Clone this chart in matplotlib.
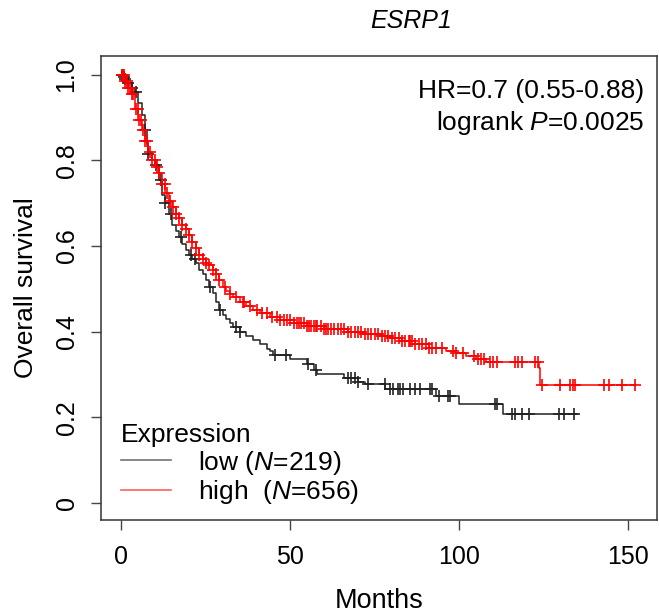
import numpy as np
import matplotlib
matplotlib.use("Agg")
import matplotlib.pyplot as plt
from matplotlib.lines import Line2D

plt.rcParams['font.family'] = ['Liberation Sans', 'DejaVu Sans']
plt.rcParams['mathtext.fontset'] = 'custom'
plt.rcParams['mathtext.rm'] = 'Liberation Sans'
plt.rcParams['mathtext.it'] = 'Liberation Sans:italic'

# Kaplan-Meier step curves (months, survival after step)
low_t = [0, 0.5, 1, 2, 3, 4, 5, 6, 7, 7.5, 8, 9, 10, 11, 12, 13, 14, 15, 16, 17,
         18, 19, 20, 21, 22, 23, 24, 25, 26, 27, 28, 29, 30, 31, 32, 33, 35, 37,
         39, 41, 43, 44, 45, 50, 55, 57, 58, 66, 70, 72, 78, 93, 100, 113, 134.8]
low_s = [1.0, 0.995, 0.99, 0.98, 0.97, 0.96, 0.935, 0.905, 0.87, 0.84, 0.815, 0.80,
         0.79, 0.755, 0.72, 0.70, 0.675, 0.65, 0.635, 0.62, 0.605, 0.59, 0.58,
         0.57, 0.56, 0.545, 0.535, 0.52, 0.505, 0.49, 0.47, 0.45, 0.44, 0.43, 0.42,
         0.41, 0.40, 0.39, 0.38, 0.37, 0.36, 0.355, 0.345, 0.335, 0.325, 0.31,
         0.302, 0.292, 0.283, 0.277, 0.265, 0.25, 0.23, 0.207, 0.207]
low_cens = [0.3, 0.8, 1.2, 2.0, 3.0, 4.4, 7.0, 8.0, 10.3, 11.8, 13.0, 14.7, 17.7,
            20.6, 21.8, 26.3, 29.2, 34.0, 35.0, 45.4, 48.7, 55.2, 57.5, 67, 68, 69,
            70, 72.9, 77.9, 79.6, 80.5, 81.7, 82.3, 83.2, 85.5, 87, 88.5, 91.2, 92,
            94, 96.5, 97.3, 110.6, 111.2, 115.6, 116.5, 118.6, 120.6, 129.5, 131, 134]

high_t = [0, 1, 2, 3, 4, 5, 6, 7, 8, 9, 10, 11, 12, 13, 14, 15, 16, 17, 18, 19, 20,
          21, 22, 23, 24, 25, 26, 27, 28, 29, 30, 31, 32, 33, 35, 37, 39, 41, 44,
          47, 51, 55, 60, 67, 72, 77, 80, 83, 87, 91, 96, 99, 102, 105, 108, 123.5,
          124, 152]
high_s = [1.0, 0.985, 0.97, 0.955, 0.92, 0.895, 0.87, 0.845, 0.82, 0.80, 0.785,
          0.77, 0.745, 0.725, 0.705, 0.69, 0.675, 0.665, 0.65, 0.64, 0.625, 0.61,
          0.595, 0.58, 0.57, 0.56, 0.555, 0.545, 0.535, 0.52, 0.505, 0.495, 0.487,
          0.48, 0.47, 0.46, 0.45, 0.443, 0.435, 0.428, 0.42, 0.413, 0.407, 0.40,
          0.395, 0.39, 0.384, 0.378, 0.37, 0.362, 0.355, 0.35, 0.343, 0.335, 0.33,
          0.315, 0.276, 0.276]
high_cens = [0.2, 0.5, 0.8, 1.2, 1.6, 2.0, 2.4, 3.0, 3.4, 4.2, 4.8, 5.3, 5.8, 6.4,
             7.0, 7.6, 8.4, 9.0, 9.8, 10.5, 11.2, 12.0, 12.8, 13.6, 14.4, 15.2,
             16.0, 17.0, 18.0, 19.0, 20.0, 21.0, 22.0, 23.0, 24.0, 25.0, 26.0, 27.0,
             28.0, 29.0, 30.5, 32.0, 34.0, 36.0, 36.3, 38.0, 40.0, 41.5, 43.0, 44.5,
             46.0, 47.0, 48.0, 49.0, 50.0, 51.0, 52.0, 52.5, 53.0, 54.0, 55.0, 55.5,
             56.0, 57.0, 57.5, 58.0, 59.0, 60.0, 60.5, 61.0, 62.0, 63.0, 64.0, 65.0,
             66.0, 67.0, 68.0, 69.0, 70.0, 71.0, 72.0, 73.0, 74.0, 75.0, 76.0, 77.0,
             78.0, 79.0, 80.0, 81.0, 82.0, 83.0, 84.0, 85.0, 85.5, 86.0, 87.0, 88.0,
             89.0, 90.0, 91.0, 92.0, 93.0, 95.0, 98, 99, 101, 104.4, 105.5, 106.5,
             107.4, 109, 110, 111, 116.5, 117.5, 118.6, 122.4, 123.2, 124.5, 129.8,
             132.7, 133.5, 134.2, 142.8, 144.2, 148, 152]

labels = ['low ($N$=219)', 'high  ($N$=656)']
colors = ['#222222', 'red']

fig = plt.figure(figsize=(6.59, 6.15), dpi=100)
ax = fig.add_axes([0.153, 0.1545, 0.844, 0.7545])


def survival_at(t, s, c):
    idx = np.searchsorted(t, c, side='right') - 1
    return np.asarray(s)[idx]


for t, s, cens, col in [(low_t, low_s, low_cens, colors[0]),
                        (high_t, high_s, high_cens, colors[1])]:
    t = np.asarray(t)
    ax.step(t, s, where='post', color=col, lw=1.1)
    ax.plot(cens, survival_at(t, s, cens), '+', color=col, ms=9, mew=1.2)

ax.set_xlim(-6.1, 158.5)
ax.set_ylim(-0.04, 1.044)
ax.set_xticks([0, 50, 100, 150])
ax.set_yticks([0, 0.2, 0.4, 0.6, 0.8, 1.0])
ax.set_yticklabels(['0', '0.2', '0.4', '0.6', '0.8', '1.0'], rotation=90, va='center')
ax.tick_params(direction='out', length=7, width=1, colors='#444444',
               labelcolor='black', labelsize=18, pad=9)
ax.tick_params(axis='x', pad=11)
for sp in ax.spines.values():
    sp.set_color('#333333')
    sp.set_linewidth(1.1)

ax.set_xlabel('Months', fontsize=19.5, labelpad=14)
ax.set_ylabel('Overall survival', fontsize=19, labelpad=12)
ax.set_title('ESRP1', fontsize=18, style='italic', pad=20, x=0.557)

ax.text(0.977, 0.925, 'HR=0.7 (0.55-0.88)', transform=ax.transAxes,
        ha='right', va='center', fontsize=19)
ax.text(0.977, 0.855, 'logrank $P$=0.0025', transform=ax.transAxes,
        ha='right', va='center', fontsize=19)

handles = [Line2D([], [], color='0.45', lw=1.2), Line2D([], [], color='#ff6060', lw=1.2)]
ax.legend(handles, labels, title='Expression', loc='lower left', frameon=False,
          fontsize=19, title_fontsize=19, handlelength=1.9, handletextpad=1.0,
          labelspacing=0.05, alignment='left', borderaxespad=0.2,
          bbox_to_anchor=(0.008, -0.004))

fig.savefig('out.png', dpi=100)
